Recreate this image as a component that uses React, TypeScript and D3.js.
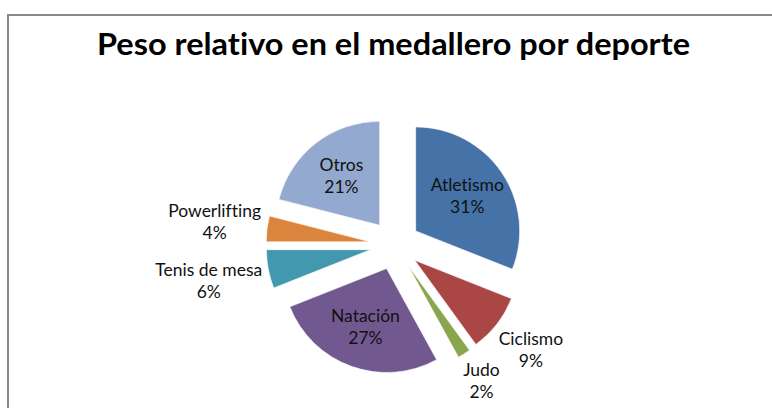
import React, { useEffect, useRef } from "react";
import * as d3 from "d3";

const categories = ["Atletismo", "Ciclismo", "Judo", "Natación", "Tenis de mesa", "Powerlifting", "Otros"];
const values = [31, 9, 2, 27, 6, 4, 21];
const colors = ["#4572A7", "#AA4643", "#89A54E", "#71588F", "#4198AF", "#DB843D", "#93A9CF"];
const title = "Peso relativo en el medallero por deporte";

const W = 772;
const H = 408;

export default function App() {
  const ref = useRef<SVGSVGElement | null>(null);

  useEffect(() => {
    const svg = d3.select(ref.current);
    svg.selectAll("*").remove();

    svg.append("rect").attr("x", 0).attr("y", 0).attr("width", W).attr("height", H).attr("fill", "#fff");
    svg
      .append("rect")
      .attr("x", 8)
      .attr("y", 15)
      .attr("width", W + 20)
      .attr("height", H + 20)
      .attr("fill", "none")
      .attr("stroke", "#8a8a8a")
      .attr("stroke-width", 2);

    svg
      .append("text")
      .attr("x", 393.5)
      .attr("y", 55)
      .attr("text-anchor", "middle")
      .attr("font-family", "Lato, 'Open Sans', sans-serif")
      .attr("font-weight", 700)
      .attr("font-size", 30)
      .attr("textLength", 593)
      .attr("lengthAdjust", "spacingAndGlyphs")
      .style("font-variant-ligatures", "none")
      .attr("fill", "#000")
      .text(title);

    const cx = 395;
    const cy = 245;
    const R = 104;
    const explode = 25;

    const data = categories.map((c, i) => ({ name: c, value: values[i], color: colors[i] }));
    const pie = d3
      .pie<any>()
      .sort(null)
      .value((d: any) => d.value);
    const arcs = pie(data);
    const total = d3.sum(values);
    const arcGen = d3.arc<any>().innerRadius(0).outerRadius(R);

    const g = svg.append("g").attr("transform", `translate(${cx},${cy})`);

    arcs.forEach((a) => {
      const mid = (a.startAngle + a.endAngle) / 2;
      const dx = Math.sin(mid) * explode;
      const dy = -Math.cos(mid) * explode;
      g.append("path")
        .attr("d", arcGen(a) as string)
        .attr("transform", `translate(${dx},${dy})`)
        .attr("fill", a.data.color)
        .attr("stroke", "#ffffff")
        .attr("stroke-opacity", 0.6)
        .attr("stroke-width", 1);
    });

    const lineH = 22;
    arcs.forEach((a) => {
      const mid = (a.startAngle + a.endAngle) / 2;
      const sx = Math.sin(mid);
      const sy = -Math.cos(mid);
      const pct = Math.round((a.data.value / total) * 100) + "%";
      const t = g
        .append("text")
        .attr("text-anchor", "middle")
        .attr("font-family", "Lato, 'Open Sans', sans-serif")
        .attr("font-size", 17.5)
        .style("font-variant-ligatures", "none")
        .attr("fill", "#111");
      t.append("tspan").attr("x", 0).attr("dy", 0).text(a.data.name);
      t.append("tspan").attr("x", 0).attr("dy", lineH).text(pct);
      const bb = (t.node() as SVGTextElement).getBBox();
      const bw = bb.width;
      const bh = 2 * lineH;
      const inside = a.data.value / total >= 0.1;
      let r: number;
      if (inside) {
        r = explode + R * 0.6;
      } else {
        const ext = (Math.abs(sx) * bw) / 2 + (Math.abs(sy) * bh) / 2;
        r = explode + R + 4 + ext;
      }
      const lx = sx * r;
      const ly = sy * r;
      const firstBase = ly - lineH / 2 + 6;
      t.selectAll("tspan").attr("x", lx);
      t.attr("transform", `translate(0,${firstBase})`);
    });
  }, []);

  return (
    <svg
      ref={ref}
      width={W}
      height={H}
      style={{ position: "absolute", left: 0, top: 0, display: "block" }}
    />
  );
}
